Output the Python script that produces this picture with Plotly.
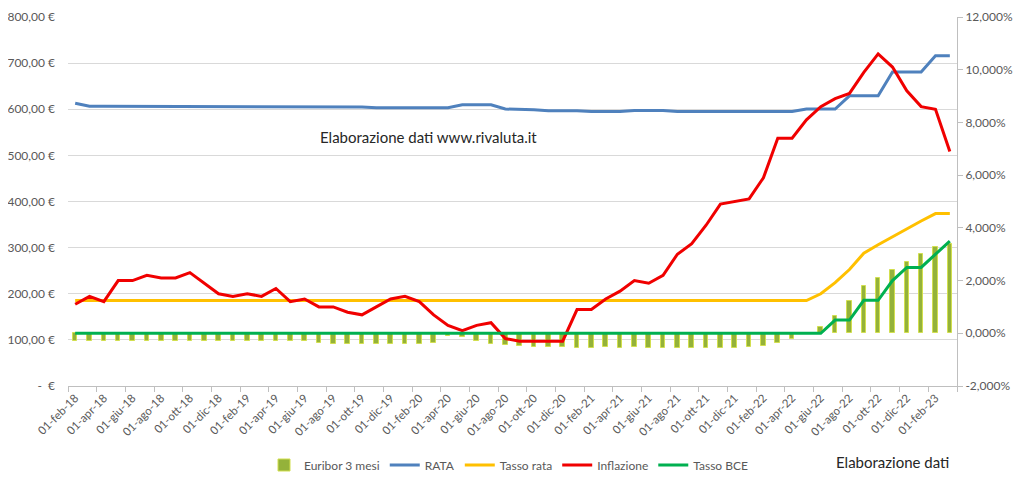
import plotly.graph_objects as go

mesi = ["gen", "feb", "mar", "apr", "mag", "giu", "lug", "ago", "set", "ott", "nov", "dic"]
# mesi da feb-18 a mar-23
date = [f"01-{mesi[(1 + k) % 12]}-{18 + (1 + k) // 12}" for k in range(62)]

euribor = [-0.28, -0.28, -0.28, -0.28, -0.28, -0.28, -0.28, -0.28, -0.28, -0.28,
           -0.28, -0.28, -0.28, -0.28, -0.28, -0.28, -0.31, -0.36, -0.41, -0.42,
           -0.41, -0.40, -0.39, -0.39, -0.41, -0.36, -0.12, -0.15, -0.30, -0.40,
           -0.44, -0.47, -0.51, -0.51, -0.53, -0.54, -0.54, -0.53, -0.54, -0.53,
           -0.54, -0.54, -0.54, -0.54, -0.54, -0.56, -0.56, -0.52, -0.48, -0.35,
           -0.22, -0.02, 0.25, 0.65, 1.22, 1.80, 2.11, 2.41, 2.70, 3.00,
           3.29, 3.38]

rata = [613, 606.5, 606.5, 606.5, 606.5, 606.5, 606.5, 606.5, 606.5, 606.5,
        606.5, 606.5, 606.5, 606.5, 606.5, 606.5, 606.5, 605, 605, 605,
        605, 603.5, 603.5, 603.5, 603.5, 603.5, 603.5, 609.5, 609.5, 609.5,
        600.5, 600.5, 599, 597, 597, 597, 595, 595, 595, 597.5,
        597.5, 597.5, 595, 595, 595, 595, 595, 595, 595, 595,
        595, 600.5, 600.5, 600.5, 629, 629, 629, 681, 681, 681,
        716, 716]

tasso_rata = [1.24] * 52 + [1.50, 1.92, 2.42, 3.04, 3.36, 3.67, 3.96, 4.26, 4.54, 4.54]

inflazione = [1.1, 1.4, 1.2, 2.0, 2.0, 2.2, 2.1, 2.1, 2.3, 1.9, 1.5,
              1.4, 1.5, 1.4, 1.7, 1.2, 1.3, 1.0, 1.0, 0.8, 0.7, 1.0, 1.3,
              1.4, 1.2, 0.7, 0.3, 0.1, 0.3, 0.4, -0.2, -0.3, -0.3, -0.3, -0.3,
              0.9, 0.9, 1.3, 1.6, 2.0, 1.9, 2.2, 3.0, 3.4, 4.1, 4.9, 5.0,
              5.1, 5.9, 7.4, 7.4, 8.1, 8.6, 8.9, 9.1, 9.9, 10.6, 10.1, 9.2,
              8.6, 8.5, 6.9]

tasso_bce = [0.0] * 53 + [0.5, 0.5, 1.25, 1.25, 2.0, 2.5, 2.5, 3.0, 3.5]

y_left_vals = [0, 100, 200, 300, 400, 500, 600, 700, 800]
y_left_text = ["-  €", "100,00 €", "200,00 €", "300,00 €", "400,00 €",
               "500,00 €", "600,00 €", "700,00 €", "800,00 €"]
y_right_vals = [-2, 0, 2, 4, 6, 8, 10, 12]
y_right_text = ["-2,000%", "0,000%", "2,000%", "4,000%", "6,000%",
                "8,000%", "10,000%", "12,000%"]

grigio = "#595959"
fig = go.Figure()

fig.add_trace(go.Bar(x=date, y=euribor, name="Euribor 3 mesi", yaxis="y2",
                     width=0.32, marker=dict(color="#94b23a", line=dict(color="#d2df4e", width=1))))
fig.add_trace(go.Scatter(x=date, y=rata, name="RATA", mode="lines",
                         line=dict(color="#4f81bd", width=3)))
fig.add_trace(go.Scatter(x=date, y=tasso_rata, name="Tasso rata", mode="lines", yaxis="y2",
                         line=dict(color="#ffc000", width=3)))
fig.add_trace(go.Scatter(x=date, y=inflazione, name="Inflazione", mode="lines", yaxis="y2",
                         line=dict(color="#f00000", width=3)))
fig.add_trace(go.Scatter(x=date, y=tasso_bce, name="Tasso BCE", mode="lines", yaxis="y2",
                         line=dict(color="#00b050", width=3)))

# scritte (coordinate in pixel della pagina, area grafico 68..957 x 17..386)
fig.add_annotation(text="Elaborazione dati www.rivaluta.it",
                   x=(428 - 68) / 889, y=(386 - 126) / 369,
                   xref="paper", yref="paper", showarrow=False,
                   font=dict(size=15, color="#262626"))
fig.add_annotation(text="Elaborazione dati", x=(951 - 68) / 889, y=(386 - 462) / 369,
                   xref="paper", yref="paper", xanchor="right", yanchor="middle",
                   showarrow=False, font=dict(size=15, color="#262626"))

# la pagina ha 8px di margine: figura più piccola per stare nella finestra
fig.update_layout(
    width=1008, height=464,
    paper_bgcolor="white", plot_bgcolor="white",
    font=dict(family="Lato, Open Sans, sans-serif", size=11, color=grigio),
    margin=dict(l=60, r=59, t=9, b=86, autoexpand=False),
    bargap=0,
    xaxis=dict(type="category", tickangle=-45, dtick=2, tickson="boundaries",
               ticks="outside", ticklen=5, tickcolor="#bfbfbf", automargin=False,
               showline=True, linecolor="#bfbfbf", linewidth=1, showgrid=False,
               tickfont=dict(size=11.5, color=grigio), range=[-0.5, 61.5]),
    yaxis=dict(range=[0, 800], tickvals=y_left_vals, ticktext=y_left_text,
               showgrid=True, gridcolor="#d9d9d9", gridwidth=1, zeroline=False,
               showline=False, ticks="", ticklabelstandoff=12, automargin=False,
               ticklabeloverflow="allow", tickfont=dict(size=12, color=grigio)),
    yaxis2=dict(range=[-2, 12], tickvals=y_right_vals, ticktext=y_right_text,
                overlaying="y", side="right", showgrid=False, zeroline=False,
                showline=True, linecolor="#bfbfbf", linewidth=1, automargin=False,
                ticks="outside", ticklen=5, tickcolor="#bfbfbf",
                ticklabeloverflow="allow", tickfont=dict(size=12, color=grigio)),
    legend=dict(orientation="h", xref="container", yref="container",
                x=256 / 1008, y=7 / 464, xanchor="left", yanchor="middle",
                font=dict(size=12, color=grigio), itemwidth=30, traceorder="normal"),
)

fig.write_html("out.html")
